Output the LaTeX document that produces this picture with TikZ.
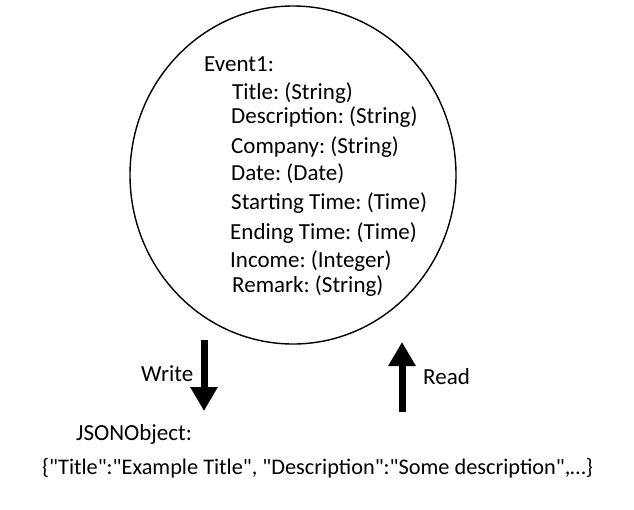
\documentclass[tikz,border=0pt]{standalone}
\usepackage{fontspec}
\setmainfont{Carlito}[Ligatures=TeXOff]
\usetikzlibrary{arrows.meta,shapes.geometric}
\frenchspacing
\begin{document}
\begin{tikzpicture}[x=1pt,y=-1pt,
  txt/.style={anchor=base west,inner sep=0pt,font=\fontsize{23}{27}\selectfont},
  bigarrow/.style={draw=black,line width=7pt,-{Triangle[width=26pt,length=24pt]}}]
\useasboundingbox (0,0) rectangle (634,509);
\node[draw,ellipse,line width=1.4pt,minimum width=326pt,minimum height=338pt,inner sep=0pt] (ev) at (293,175) {};
\node[txt] (e1) at (204,71) {Event1:};
\node[txt] (t1) at (232,99) {Title: (String)};
\node[txt] (t2) at (231,123) {Description: (String)};
\node[txt] (t3) at (231,153) {Company: (String)};
\node[txt] (t4) at (231,180) {Date: (Date)};
\node[txt] (t5) at (231,209) {Starting Time: (Time)};
\node[txt] (t6) at (230,239) {Ending Time: (Time)};
\node[txt] (t7) at (230,267) {Income: (Integer)};
\node[txt] (t8) at (232,292) {Remark: (String)};
\node[txt] (w) at (141,381) {Write};
\node[txt] (r) at (423,384) {Read};
\node[txt] (j) at (76,440) {JSONObject:};
\node[txt,font=\fontsize{22.3}{26}\selectfont] (js) at (42,474) {\{"Title":"Example Title", "Description":"Some description",…\}};
\coordinate (wa) at (204,340);
\coordinate (wb) at (204,411);
\coordinate (ra) at (402,412);
\coordinate (rb) at (402,342);
\draw[bigarrow] (wa) -- (wb);
\draw[bigarrow] (ra) -- (rb);
\end{tikzpicture}
\end{document}
